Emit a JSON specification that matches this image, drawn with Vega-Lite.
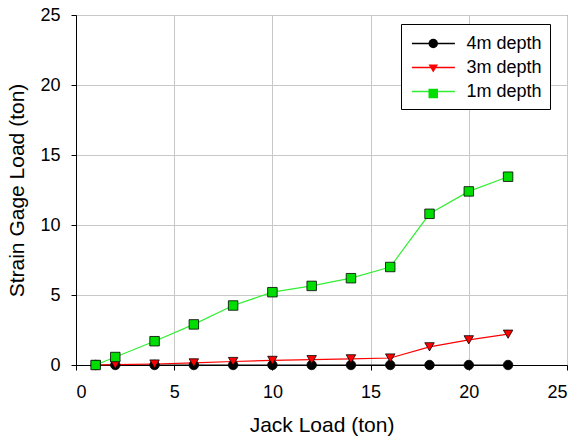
{
  "$schema": "https://vega.github.io/schema/vega-lite/v6.json",
  "width": 491,
  "height": 350,
  "autosize": "none",
  "padding": {"left": 76, "top": 15, "right": 12, "bottom": 76},
  "background": "white",
  "config": {
    "font": "Liberation Sans",
    "view": {"stroke": "#444444", "strokeWidth": 1},
    "axis": {
      "labelFont": "Liberation Sans",
      "titleFont": "Liberation Sans",
      "labelFontSize": 18,
      "titleFontSize": 21,
      "titleFontWeight": "normal",
      "labelColor": "black",
      "titleColor": "black",
      "domainColor": "black",
      "tickColor": "black",
      "tickSize": 5,
      "gridColor": "#c8c8c8",
      "gridWidth": 1
    }
  },
  "data": {
    "values": [
      {"jack": 1, "load": 0, "series": "4m depth"},
      {"jack": 2, "load": 0, "series": "4m depth"},
      {"jack": 4, "load": 0, "series": "4m depth"},
      {"jack": 6, "load": 0, "series": "4m depth"},
      {"jack": 8, "load": 0, "series": "4m depth"},
      {"jack": 10, "load": 0, "series": "4m depth"},
      {"jack": 12, "load": 0, "series": "4m depth"},
      {"jack": 14, "load": 0, "series": "4m depth"},
      {"jack": 16, "load": 0, "series": "4m depth"},
      {"jack": 18, "load": 0, "series": "4m depth"},
      {"jack": 20, "load": 0, "series": "4m depth"},
      {"jack": 22, "load": 0, "series": "4m depth"},
      {"jack": 1, "load": 0, "series": "3m depth"},
      {"jack": 2, "load": 0.02, "series": "3m depth"},
      {"jack": 4, "load": 0.07, "series": "3m depth"},
      {"jack": 6, "load": 0.15, "series": "3m depth"},
      {"jack": 8, "load": 0.25, "series": "3m depth"},
      {"jack": 10, "load": 0.33, "series": "3m depth"},
      {"jack": 12, "load": 0.38, "series": "3m depth"},
      {"jack": 14, "load": 0.44, "series": "3m depth"},
      {"jack": 16, "load": 0.5, "series": "3m depth"},
      {"jack": 18, "load": 1.3, "series": "3m depth"},
      {"jack": 20, "load": 1.8, "series": "3m depth"},
      {"jack": 22, "load": 2.2, "series": "3m depth"},
      {"jack": 1, "load": 0, "series": "1m depth"},
      {"jack": 2, "load": 0.57, "series": "1m depth"},
      {"jack": 4, "load": 1.7, "series": "1m depth"},
      {"jack": 6, "load": 2.9, "series": "1m depth"},
      {"jack": 8, "load": 4.25, "series": "1m depth"},
      {"jack": 10, "load": 5.2, "series": "1m depth"},
      {"jack": 12, "load": 5.65, "series": "1m depth"},
      {"jack": 14, "load": 6.2, "series": "1m depth"},
      {"jack": 16, "load": 7.0, "series": "1m depth"},
      {"jack": 18, "load": 10.8, "series": "1m depth"},
      {"jack": 20, "load": 12.4, "series": "1m depth"},
      {"jack": 22, "load": 13.45, "series": "1m depth"}
    ]
  },
  "encoding": {
    "x": {
      "field": "jack",
      "type": "quantitative",
      "scale": {"domain": [0, 25], "nice": false},
      "axis": {"values": [0, 5, 10, 15, 20, 25], "title": "Jack Load (ton)", "titlePadding": 13, "labelPadding": 13}
    },
    "y": {
      "field": "load",
      "type": "quantitative",
      "scale": {"domain": [0, 25], "nice": false},
      "axis": {"values": [0, 5, 10, 15, 20, 25], "title": "Strain Gage Load (ton)", "titlePadding": 12, "labelPadding": 11}
    }
  },
  "layer": [
    {
      "mark": {"type": "line", "strokeWidth": 1.2},
      "encoding": {
        "stroke": {
          "field": "series",
          "type": "nominal",
          "sort": ["4m depth", "3m depth", "1m depth"],
          "scale": {"range": ["#000000", "#ff0000", "#33ee33"]},
          "legend": {
            "title": null,
            "orient": "none",
            "legendX": 325,
            "legendY": 9,
            "symbolType": "M-0.8,0H3.2",
            "symbolSize": 462,
            "symbolStrokeWidth": 1.5,
            "labelFontSize": 18,
            "labelFont": "Liberation Sans",
            "labelColor": "black",
            "labelOffset": 34.5,
            "rowPadding": 3,
            "padding": 8,
            "strokeColor": "black",
            "fillColor": "white"
          }
        }
      }
    },
    {
      "mark": {"type": "point", "filled": true, "stroke": "black", "strokeWidth": 0.8, "opacity": 1},
      "encoding": {
        "shape": {
          "field": "series",
          "type": "nominal",
          "scale": {"domain": ["4m depth", "3m depth", "1m depth"], "range": ["circle", "triangle-down", "square"]},
          "legend": {
            "title": null,
            "orient": "none",
            "legendX": 351.75,
            "legendY": 23,
            "symbolSize": 90,
            "symbolStrokeColor": "black",
            "symbolStrokeWidth": 0.8,
            "labelExpr": "''",
            "labelOffset": 0,
            "rowPadding": 12,
            "padding": 0
          }
        },
        "fill": {
          "field": "series",
          "type": "nominal",
          "scale": {"domain": ["4m depth", "3m depth", "1m depth"], "range": ["#000000", "#ff0000", "#00dd00"]},
          "legend": {
            "title": null,
            "orient": "none",
            "legendX": 351.75,
            "legendY": 23,
            "symbolSize": 90,
            "symbolStrokeColor": "black",
            "symbolStrokeWidth": 0.8,
            "labelExpr": "''",
            "labelOffset": 0,
            "rowPadding": 12,
            "padding": 0
          }
        },
        "size": {"value": 90}
      }
    }
  ]
}
